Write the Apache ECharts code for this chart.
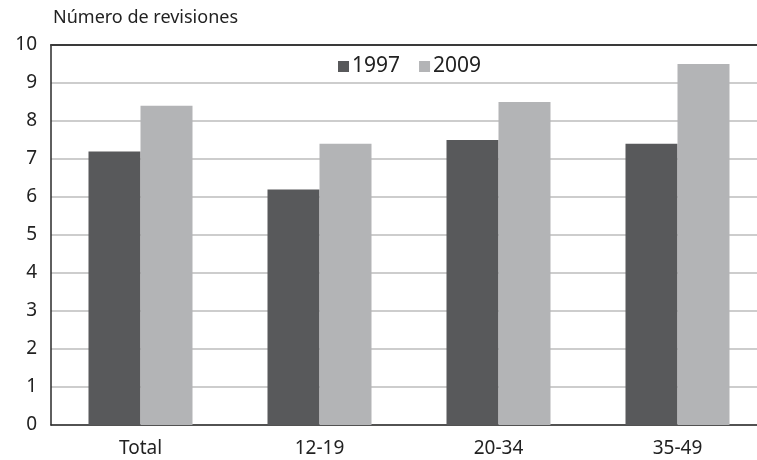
<!DOCTYPE html>
<html>
<head>
<meta charset="utf-8">
<script src="https://cdn.jsdelivr.net/npm/echarts@6/dist/echarts.min.js"></script>
<style>
  html, body { margin: 0; padding: 0; background: #fff; }
  #chart { width: 757px; height: 460px; }
</style>
</head>
<body>
<div id="chart"></div>
<script>
const categories = ['Total', '12-19', '20-34', '35-49'];
const values1997 = [7.2, 6.2, 7.5, 7.4];
const values2009 = [8.4, 7.4, 8.5, 9.5];
const seriesNames = ['1997', '2009'];
const yTicks = { min: 0, max: 10, interval: 1 };

const FONT = '"Noto Sans", "Open Sans", sans-serif';
const chart = echarts.init(document.getElementById('chart'), null, { renderer: 'canvas' });

chart.setOption({
  animation: false,
  backgroundColor: '#ffffff',
  textStyle: { fontFamily: FONT },
  title: {
    text: 'Número de revisiones',
    left: 48, top: 4,
    textStyle: { fontFamily: FONT, fontSize: 18, fontWeight: 'normal', color: '#222' }
  },
  legend: {
    data: seriesNames,
    left: 333, top: 51,
    icon: 'rect',
    itemWidth: 11, itemHeight: 11, itemGap: 19,
    textStyle: { fontFamily: FONT, fontSize: 21, color: '#222', padding: [0, 0, 0, -2] }
  },
  // the plot area runs slightly past the right edge of the canvas
  grid: { left: 51, width: 716, top: 45, bottom: 35, containLabel: false, outerBoundsMode: 'none' },
  xAxis: [
    {
      type: 'category',
      data: categories,
      axisLine: { lineStyle: { color: '#2a2a2a', width: 1.5 } },
      axisTick: { show: false },
      axisLabel: { fontFamily: FONT, fontSize: 19, color: '#222', margin: 14 }
    },
    {
      type: 'category',
      position: 'top',
      data: categories,
      axisLine: { show: true, lineStyle: { color: '#3a3a3a', width: 2 } },
      axisTick: { show: false },
      axisLabel: { show: false }
    }
  ],
  yAxis: {
    type: 'value',
    min: yTicks.min, max: yTicks.max, interval: yTicks.interval,
    axisLine: { show: true, lineStyle: { color: '#2a2a2a', width: 1.5 } },
    axisTick: { show: false },
    axisLabel: { fontFamily: FONT, fontSize: 19, color: '#222', margin: 14 },
    splitLine: { lineStyle: { color: '#bdbdbd', width: 1.5 } }
  },
  series: [
    {
      name: seriesNames[0], type: 'bar', data: values1997,
      barWidth: 52, barGap: '0%',
      itemStyle: { color: '#58595b' }
    },
    {
      name: seriesNames[1], type: 'bar', data: values2009,
      barWidth: 52, barGap: '0%',
      itemStyle: { color: '#b3b4b6' }
    }
  ]
});
</script>
</body>
</html>
